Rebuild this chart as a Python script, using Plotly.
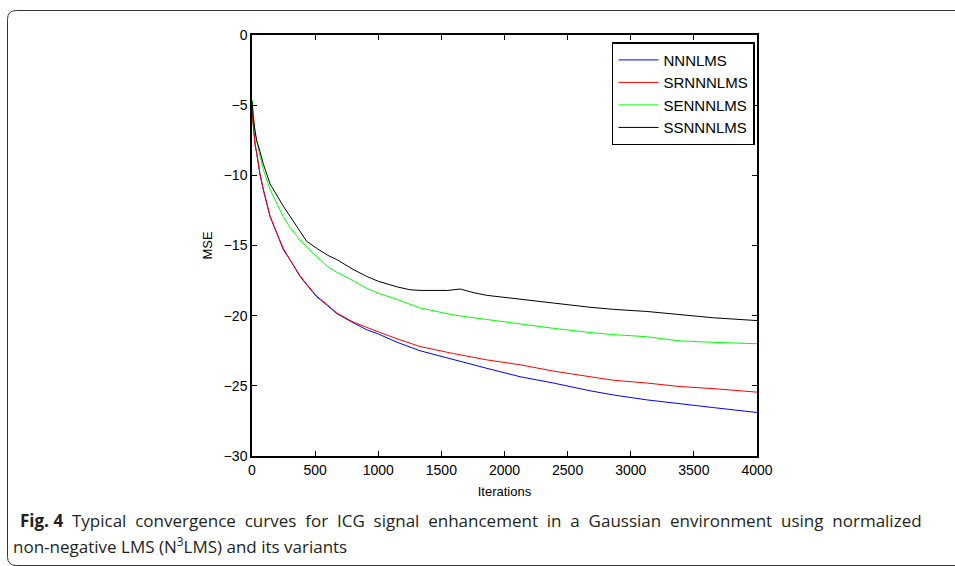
import plotly.graph_objects as go

ITER = [0, 10, 25, 37, 63, 90, 143, 200, 248, 300, 380, 433, 512, 600, 671, 800, 908,
        1000, 1150, 1331, 1595, 1859, 2123, 2387, 2677, 2862, 3127, 3390, 3654, 4000]
NNNLMS = [-5.3, -6.5, -7.8, -8.4, -9.9, -11.05, -12.95, -14.2, -15.3, -16.0, -17.2, -17.8,
          -18.65, -19.3, -19.85, -20.5, -21.0, -21.3, -21.9, -22.5, -23.15, -23.75, -24.35,
          -24.8, -25.35, -25.65, -26.0, -26.25, -26.55, -26.9]
SRNNNLMS = [-5.5, -6.7, -7.9, -8.4, -9.9, -11.0, -12.9, -14.2, -15.2, -16.0, -17.15, -17.75,
            -18.6, -19.25, -19.8, -20.45, -20.85, -21.15, -21.65, -22.2, -22.7, -23.15, -23.5,
            -23.95, -24.35, -24.6, -24.8, -25.05, -25.2, -25.45]
SENNNLMS = [-4.6, -5.8, -7.0, -7.6, -8.7, -9.6, -11.0, -12.1, -12.95, -13.7, -14.6, -15.1,
            -15.8, -16.5, -16.9, -17.5, -18.05, -18.4, -18.85, -19.45, -19.95, -20.27, -20.6,
            -20.9, -21.2, -21.35, -21.5, -21.8, -21.9, -22.0]
ITER_SS = [0, 10, 25, 37, 63, 90, 143, 200, 248, 300, 380, 433, 512, 600, 671, 800, 908,
           1000, 1150, 1250, 1331, 1550, 1650, 1750, 1859, 2123, 2387, 2677, 2862, 3127,
           3390, 3654, 4000]
SSNNNLMS = [-4.7, -5.9, -6.9, -7.5, -8.3, -9.2, -10.6, -11.5, -12.2, -12.9, -14.0, -14.7,
            -15.2, -15.7, -16.0, -16.7, -17.2, -17.55, -17.95, -18.15, -18.2, -18.2, -18.1,
            -18.35, -18.55, -18.85, -19.1, -19.4, -19.55, -19.7, -19.95, -20.15, -20.35]

X_TICKS = [0, 500, 1000, 1500, 2000, 2500, 3000, 3500, 4000]
Y_TICKS = [0, -5, -10, -15, -20, -25, -30]

CAPTION_1 = ["Typical", "convergence", "curves", "for", "ICG", "signal", "enhancement",
             "in", "a", "Gaussian", "environment", "using", "normalized"]
CAPTION_2 = "non-negative LMS (N<sup>3</sup>LMS) and its variants"

fig = go.Figure()
series = [
    ("NNNLMS", ITER, NNNLMS, "#0000ff"),
    ("SRNNNLMS", ITER, SRNNNLMS, "#ff0000"),
    ("SENNNLMS", ITER, SENNNLMS, "#00ff00"),
    ("SSNNNLMS", ITER_SS, SSNNNLMS, "#000000"),
]
for name, xs, ys, col in series:
    fig.add_trace(go.Scatter(x=xs, y=ys, mode="lines", name=name,
                             line=dict(color=col, width=1)))

W, H = 955, 566
L, R, T, B = 252, 198, 35, 110
pw, ph = W - L - R, H - T - B

def px(x):
    return (x - L) / pw

def py(y):
    return (H - B - y) / ph

# rounded outer frame
x0, x1, y0, y1, r = 7.5, 965, 10.5, 565.5, 9
path = (f"M {px(x0)},{py(y1 - r)} L {px(x0)},{py(y0 + r)} "
        f"Q {px(x0)},{py(y0)} {px(x0 + r)},{py(y0)} L {px(x1 - r)},{py(y0)} "
        f"Q {px(x1)},{py(y0)} {px(x1)},{py(y0 + r)} L {px(x1)},{py(y1 - r)} "
        f"Q {px(x1)},{py(y1)} {px(x1 - r)},{py(y1)} L {px(x0 + r)},{py(y1)} "
        f"Q {px(x0)},{py(y1)} {px(x0)},{py(y1 - r)} Z")

axis_common = dict(showline=True, linecolor="black", linewidth=1.5, mirror="ticks",
                   ticks="inside", ticklen=5, tickcolor="black", showgrid=False,
                   zeroline=False, tickfont=dict(family="Arial", size=14, color="black"))

CAP_FONT = dict(family="Open Sans", size=17, color="#231f20")
GAP = " \u00a0"  # slightly widened (justified) word spacing
line1 = "<b>Fig." + " " + "4</b>" + GAP + GAP.join(CAPTION_1)

fig.update_layout(
    width=W, height=H,
    margin=dict(l=L, r=R, t=T, b=B),
    paper_bgcolor="white", plot_bgcolor="white",
    xaxis=dict(range=[0, 4000], tickvals=X_TICKS,
               title=dict(text="Iterations", font=dict(family="Arial", size=13, color="black"),
                          standoff=10),
               **axis_common),
    yaxis=dict(range=[-30, 0], tickvals=Y_TICKS,
               title=dict(text="MSE", font=dict(family="Arial", size=13, color="black"),
                          standoff=8),
               **axis_common),
    legend=dict(x=0.996, y=0.983, xanchor="right", yanchor="top",
                bgcolor="white", bordercolor="black", borderwidth=1.5,
                font=dict(family="Arial", size=15, color="black"),
                tracegroupgap=0, itemwidth=40),
    shapes=[dict(type="path", path=path, xref="paper", yref="paper",
                 line=dict(color="#333333", width=1), layer="below")],
    annotations=[
        dict(text=line1,
             xref="paper", yref="paper", x=px(18), y=py(520), xanchor="left", yanchor="middle",
             showarrow=False, font=CAP_FONT),
        dict(text=CAPTION_2,
             xref="paper", yref="paper", x=px(11), y=py(545), xanchor="left", yanchor="middle",
             showarrow=False, font=CAP_FONT),
    ],
)

fig.write_html("out.html")
